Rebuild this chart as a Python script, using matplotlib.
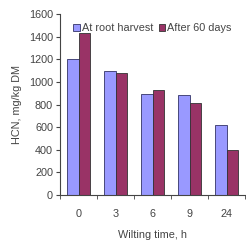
import matplotlib.pyplot as plt
import numpy as np

plt.rcParams['font.family'] = ['Liberation Sans', 'DejaVu Sans']

wilting = ['0', '3', '6', '9', '24']
root_harvest = [1200, 1100, 890, 880, 620]
after_60 = [1430, 1080, 930, 815, 395]

fig = plt.figure(figsize=(2.46, 2.46), dpi=100)
ax = fig.add_axes([0.244, 0.207, 0.752, 0.736])

x = np.arange(len(wilting))
w = 0.3
ax.bar(x - w / 2, root_harvest, w, color='#9999ff', edgecolor='#333366',
       linewidth=0.6, label='At root harvest')
ax.bar(x + w / 2, after_60, w, color='#993366', edgecolor='#333333',
       linewidth=0.6, label='After 60 days')

ax.set_xlim(-0.5, len(wilting) - 0.5)
ax.set_ylim(0, 1600)
ax.set_yticks(range(0, 1601, 200))
ax.set_xticks(x)
ax.set_xticklabels(wilting)
ax.set_xticks(np.arange(-0.5, len(wilting), 1), minor=True)
ax.tick_params(axis='x', which='major', length=0, pad=10, labelsize=7.8, colors='#444444')
ax.tick_params(axis='x', which='minor', length=3, direction='out', color='#444444')
ax.tick_params(axis='y', length=3, direction='out', labelsize=7.8, colors='#444444', pad=2)

for s in ['top', 'right']:
    ax.spines[s].set_visible(False)
ax.spines['left'].set_color('#444444')
ax.spines['bottom'].set_color('#444444')

ax.set_xlabel('Wilting time, h', fontsize=7.8, color='#444444', labelpad=8)
ax.set_ylabel('HCN, mg/kg DM', fontsize=7.8, color='#444444', labelpad=5)

ax.legend(loc='upper left', bbox_to_anchor=(0.03, 0.99), ncol=2, frameon=False,
          fontsize=7.8, handlelength=0.6, handleheight=0.6, handletextpad=0.2,
          columnspacing=0.5, labelcolor='#444444', borderaxespad=0.3)

fig.savefig('out.png', dpi=100)
